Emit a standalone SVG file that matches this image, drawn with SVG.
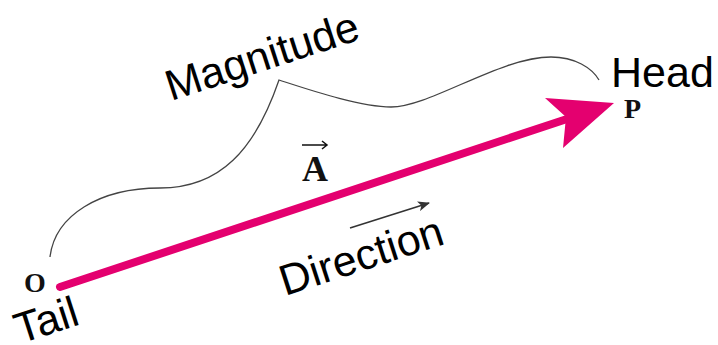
<svg xmlns="http://www.w3.org/2000/svg" width="718" height="345" viewBox="0 0 718 345">
  <style>
    .lbl { font-family: "Liberation Sans", Arial, Helvetica, sans-serif; font-size: 43px; fill: #000; }
    .pt { font-family: "Liberation Serif", "Times New Roman", serif; font-weight: bold; font-size: 28px; fill: #111; }
    .vec { font-family: "Liberation Serif", "Times New Roman", serif; font-weight: bold; font-size: 36px; fill: #111; }
    .curve { fill: none; stroke: #444; stroke-width: 1.3; }
    .vecline { stroke: #E4006F; stroke-width: 8; stroke-linecap: round; fill: none; }
  </style>
  <defs>
    <marker id="dirhead" viewBox="0 0 12 10" refX="11" refY="5" markerWidth="12" markerHeight="10" markerUnits="userSpaceOnUse" orient="auto">
      <path d="M0,0 L12,5 L0,10 L3,5 Z" fill="#333"/>
    </marker>
  </defs>
  <rect width="718" height="345" fill="#fff"/>

  <g id="connectors">
    <path id="magnitude-curve" class="curve" d="M50,257 C55,215 100,188 160,188 C220,188 255,150 279,80 C310,90 360,107 391,107 C430,107 500,57 551,57 C575,57 592,68 599,80"/>
    <line id="vector-shaft" class="vecline" x1="60" y1="287" x2="570" y2="118"/>
    <polygon id="vector-head" points="614,103 545,98 566,117 563,148" fill="#E4006F"/>
    <line id="direction-arrow" x1="350" y1="228" x2="429" y2="203" stroke="#333" stroke-width="1.6" marker-end="url(#dirhead)"/>
  </g>

  <g id="node-O">
    <text class="pt" x="24" y="292">O</text>
  </g>
  <g id="node-P">
    <text class="pt" x="624" y="118">P</text>
  </g>
  <g id="label-A">
    <text class="vec" x="302" y="181">A</text>
    <path d="M302,145 H327 M322,141 L327,145 L322,149" fill="none" stroke="#111" stroke-width="1.5"/>
  </g>
  <g id="label-magnitude">
    <text class="lbl" transform="translate(171,101) rotate(-18)">Magnitude</text>
  </g>
  <g id="label-head">
    <text class="lbl" x="611" y="87">Head</text>
  </g>
  <g id="label-tail">
    <text class="lbl" transform="translate(20,344) rotate(-18)">Tail</text>
  </g>
  <g id="label-direction">
    <text class="lbl" transform="translate(285,296) rotate(-18)">Direction</text>
  </g>
</svg>
